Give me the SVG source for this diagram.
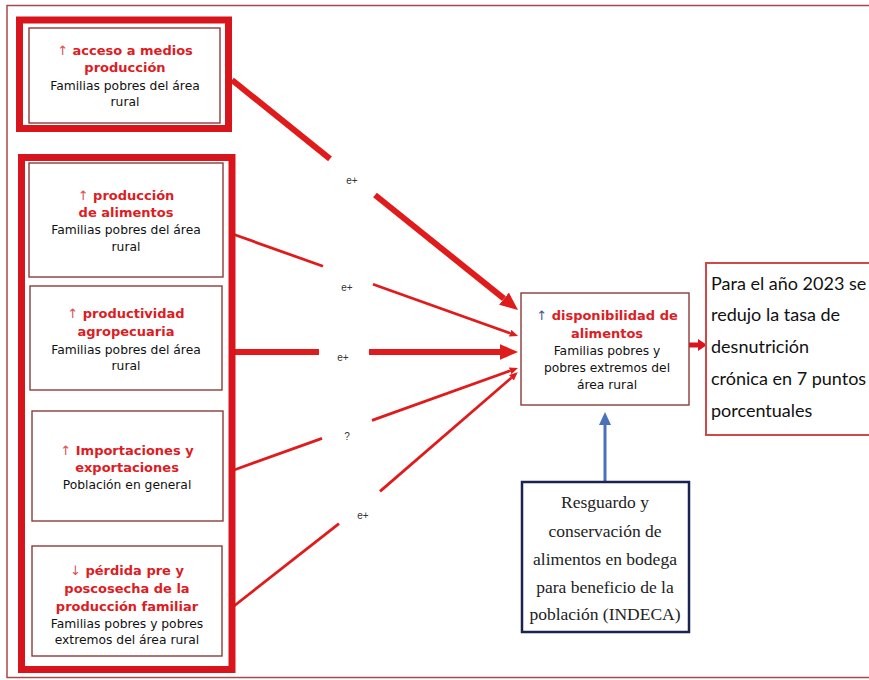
<svg xmlns="http://www.w3.org/2000/svg" width="869" height="680" viewBox="0 0 869 680">
<defs>
<style>
.thick{fill:none;stroke:#d8151d;stroke-width:7}
.inner{fill:#fff;stroke:#8c3b3b;stroke-width:1.4}
.h{font-family:"DejaVu Sans",sans-serif;font-weight:bold;font-size:13px;fill:#dd1c24;text-anchor:middle}
.arw{font-weight:normal;fill:#d85050}
.b{font-family:"DejaVu Sans",sans-serif;font-size:12.3px;fill:#111;text-anchor:middle}
.lbl{font-family:"Liberation Sans",sans-serif;font-size:10px;fill:#333;text-anchor:middle}
.ser{font-family:"Liberation Serif",serif;font-size:17.5px;fill:#222;text-anchor:middle}
.cal{font-family:Lato,"Liberation Sans",sans-serif;font-size:18px;fill:#111}
.c{stroke:#e01b1b;fill:none}
.tk{stroke-width:6}
.tn{stroke-width:2.8}
</style>
<marker id="ah" viewBox="0 0 3 2.6" markerWidth="3" markerHeight="2.6" refX="0" refY="1.3" orient="auto" markerUnits="strokeWidth">
<path d="M0,0 L3,1.3 L0,2.6 Z" fill="#e01b1b"/>
</marker>
</defs>
<rect width="869" height="680" fill="#fff"/>
<rect x="7" y="5.5" width="900" height="672" fill="none" stroke="#a84848" stroke-width="1.5"/>

<g id="connectors">
<line class="c tk" x1="232" y1="80" x2="330" y2="158.8"/>
<line class="c tk" x1="375" y1="195" x2="504" y2="298.7" marker-end="url(#ah)"/>
<text class="lbl" x="352" y="184">e+</text>
<line class="c tn" x1="234" y1="234.5" x2="323" y2="266.3"/>
<line class="c tn" x1="373" y1="284.2" x2="510.1" y2="333.2" marker-end="url(#ah)"/>
<text class="lbl" x="347" y="291">e+</text>
<line class="c tk" x1="235" y1="352" x2="319" y2="352"/>
<line class="c tk" x1="369" y1="352" x2="500" y2="352" marker-end="url(#ah)"/>
<text class="lbl" x="343" y="361">e+</text>
<line class="c tn" x1="234" y1="470" x2="322" y2="438.4"/>
<line class="c tn" x1="372" y1="420.4" x2="510.1" y2="370.8" marker-end="url(#ah)"/>
<text class="lbl" x="347" y="440">?</text>
<line class="c tn" x1="234" y1="606" x2="339" y2="523.6"/>
<line class="c tn" x1="380" y1="491.4" x2="511.4" y2="377.8" marker-end="url(#ah)"/>
<text class="lbl" x="363" y="519">e+</text>
<line x1="689" y1="345" x2="699" y2="345" stroke="#d8151d" stroke-width="5"/>
<polygon points="698,339 707,345 698,351" fill="#d8151d"/>
<line x1="605" y1="482" x2="605" y2="424" stroke="#4a72b8" stroke-width="3"/>
<polygon points="599,425 605,412 611,425" fill="#4a72b8"/>
</g>

<g id="acceso">
<rect class="thick" x="19.5" y="20" width="209" height="108.5"/>
<rect class="inner" x="29" y="28" width="191" height="95"/>
<text class="h" x="125" y="55"><tspan class="arw">↑</tspan> acceso a medios</text>
<text class="h" x="125" y="72">producción</text>
<text class="b" x="125" y="90">Familias pobres del área</text>
<text class="b" x="125" y="106">rural</text>
</g>

<g id="grupo">
<rect class="thick" x="21.5" y="157.5" width="210.5" height="512"/>
</g>

<g id="produccion">
<rect class="inner" x="29" y="163" width="194" height="114"/>
<text class="h" x="126" y="200"><tspan class="arw">↑</tspan> producción</text>
<text class="h" x="126" y="217">de alimentos</text>
<text class="b" x="126" y="234">Familias pobres del área</text>
<text class="b" x="126" y="251">rural</text>
</g>

<g id="productividad">
<rect class="inner" x="30" y="286" width="192" height="104"/>
<text class="h" x="126" y="318"><tspan class="arw">↑</tspan> productividad</text>
<text class="h" x="126" y="336">agropecuaria</text>
<text class="b" x="126" y="354">Familias pobres del área</text>
<text class="b" x="126" y="370">rural</text>
</g>

<g id="importaciones">
<rect class="inner" x="32" y="411" width="191" height="110"/>
<text class="h" x="127" y="455"><tspan class="arw">↑</tspan> Importaciones y</text>
<text class="h" x="127" y="472">exportaciones</text>
<text class="b" x="127" y="489">Población en general</text>
</g>

<g id="perdida">
<rect class="inner" x="32" y="546" width="190" height="110"/>
<text class="h" x="127" y="575"><tspan class="arw">↓</tspan> pérdida pre y</text>
<text class="h" x="127" y="593">poscosecha de la</text>
<text class="h" x="127" y="611">producción familiar</text>
<text class="b" x="127" y="628">Familias pobres y pobres</text>
<text class="b" x="127" y="644">extremos del área rural</text>
</g>

<g id="disponibilidad">
<rect class="inner" x="521" y="293" width="168" height="112"/>
<text class="h" x="607" y="320"><tspan class="arw" style="fill:#4a5a8a">↑</tspan> disponibilidad de</text>
<text class="h" x="607" y="338">alimentos</text>
<text class="b" x="607" y="355">Familias pobres y</text>
<text class="b" x="607" y="372">pobres extremos del</text>
<text class="b" x="607" y="389">área rural</text>
</g>

<g id="resultado">
<rect x="706" y="263" width="200" height="172" fill="#fff" stroke="#d04848" stroke-width="2"/>
<text class="cal" x="711" y="290">Para el año 2023 se</text>
<text class="cal" x="711" y="321">redujo la tasa de</text>
<text class="cal" x="711" y="353">desnutrición</text>
<text class="cal" x="711" y="385">crónica en 7 puntos</text>
<text class="cal" x="711" y="417">porcentuales</text>
</g>

<g id="indeca">
<rect x="522" y="482" width="167" height="150" fill="#fff" stroke="#1b2352" stroke-width="2.5"/>
<text class="ser" x="605" y="508">Resguardo y</text>
<text class="ser" x="605" y="537">conservación de</text>
<text class="ser" x="605" y="565">alimentos en bodega</text>
<text class="ser" x="605" y="593">para beneficio de la</text>
<text class="ser" x="605" y="620">población (INDECA)</text>
</g>
</svg>
